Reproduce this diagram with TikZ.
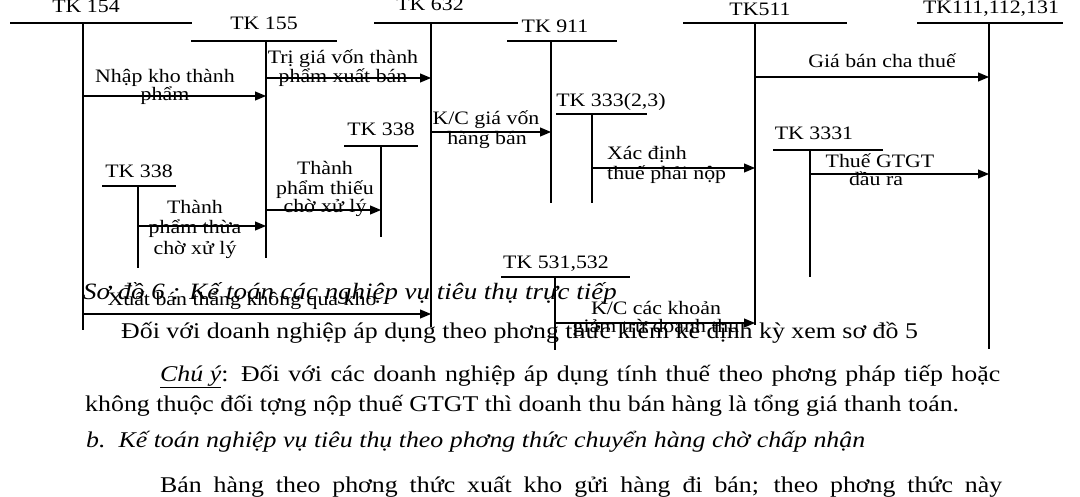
\documentclass[tikz,border=0pt]{standalone}
\usepackage{fontspec}
\setmainfont{Liberation Serif}[FakeStretch=1.15]
\usetikzlibrary{arrows.meta}
\tikzset{
  ln/.style={line width=1.1pt},
  arr/.style={line width=1.1pt,-{Triangle[length=11pt,width=9pt]}},
  lbl/.style={anchor=base,inner sep=0pt,font=\fontsize{19}{19}\selectfont},
  lbll/.style={anchor=base west,inner sep=0pt,font=\fontsize{19}{19}\selectfont},
  body/.style={anchor=base west,inner sep=0pt,font=\fontsize{22.5}{22.5}\selectfont},
  capt/.style={anchor=base west,inner sep=0pt,font=\fontsize{23.4}{23.4}\selectfont\itshape},
}
\begin{document}
\begin{tikzpicture}[x=1pt,y=-1pt]
\useasboundingbox (0,0) rectangle (1080,496);
% ---------- accounts ----------
\node[lbl] (k154) at (86,12) {TK 154};
\coordinate (h154a) at (10,23); \coordinate (h154b) at (192,23);
\coordinate (v154t) at (83,23); \coordinate (v154b) at (83,330);
\node[lbl] (k155) at (264,29) {TK 155};
\coordinate (h155a) at (191,41); \coordinate (h155b) at (337,41);
\coordinate (v155t) at (266,41); \coordinate (v155b) at (266,258);
\node[lbl] (k632) at (430,10) {TK 632};
\coordinate (h632a) at (374,23); \coordinate (h632b) at (518,23);
\coordinate (v632t) at (431,23); \coordinate (v632b) at (431,327);
\node[lbl] (k911) at (555,32) {TK 911};
\coordinate (h911a) at (507,41); \coordinate (h911b) at (617,41);
\coordinate (v911t) at (551,41); \coordinate (v911b) at (551,203);
\node[lbl] (k333) at (611,106) {TK 333(2,3)};
\coordinate (h333a) at (556,114); \coordinate (h333b) at (647,114);
\coordinate (v333t) at (592,114); \coordinate (v333b) at (592,203);
\node[lbl] (k511) at (760,15) {TK511};
\coordinate (h511a) at (683,23); \coordinate (h511b) at (847,23);
\coordinate (v511t) at (755,23); \coordinate (v511b) at (755,325);
\node[lbl] (k111) at (991,13) {TK111,112,131};
\coordinate (h111a) at (917,23); \coordinate (h111b) at (1063,23);
\coordinate (v111t) at (989,23); \coordinate (v111b) at (989,349);
\node[lbl] (k3331) at (814,139) {TK 3331};
\coordinate (h3331a) at (773,150); \coordinate (h3331b) at (883,150);
\coordinate (v3331t) at (810,150); \coordinate (v3331b) at (810,277);
\node[lbl] (k338r) at (381,135) {TK 338};
\coordinate (h338ra) at (344,146); \coordinate (h338rb) at (418,146);
\coordinate (v338rt) at (381,146); \coordinate (v338rb) at (381,237);
\node[lbl] (k338l) at (139,177) {TK 338};
\coordinate (h338la) at (102,186); \coordinate (h338lb) at (176,186);
\coordinate (v338lt) at (138,186); \coordinate (v338lb) at (138,268);
\node[lbl] (k531) at (556,268) {TK 531,532};
\coordinate (h531a) at (501,277); \coordinate (h531b) at (630,277);
\coordinate (v531t) at (555,277); \coordinate (v531b) at (555,350);
\foreach \a in {154,155,632,911,333,511,111,3331,338r,338l,531}{
  \draw[ln] (h\a a) -- (h\a b);
  \draw[ln] (v\a t) -- (v\a b);
}
% ---------- arrows ----------
\coordinate (a1s) at (83,96);   \coordinate (a1e) at (266,96);
\coordinate (a2s) at (266,78);  \coordinate (a2e) at (431,78);
\coordinate (a3s) at (138,226); \coordinate (a3e) at (266,226);
\coordinate (a4s) at (266,210); \coordinate (a4e) at (381,210);
\coordinate (a5s) at (431,132); \coordinate (a5e) at (551,132);
\coordinate (a6s) at (592,168); \coordinate (a6e) at (755,168);
\coordinate (a7s) at (755,77);  \coordinate (a7e) at (989,77);
\coordinate (a8s) at (810,174); \coordinate (a8e) at (989,174);
\coordinate (a9s) at (83,314);  \coordinate (a9e) at (431,314);
\coordinate (a10s) at (555,323); \coordinate (a10e) at (755,323);
\foreach \i in {1,...,10}{ \draw[arr] (a\i s) -- (a\i e); }
% ---------- arrow labels ----------
\node[lbl] (t1a) at (165,82) {Nhập kho thành};
\node[lbl] (t1b) at (165,100) {phẩm};
\node[lbl] (t2a) at (343,63) {Trị giá vốn thành};
\node[lbl] (t2b) at (343,82) {phẩm xuất bán};
\node[lbl] (t3a) at (195,213) {Thành};
\node[lbl] (t3b) at (195,233) {phẩm thừa};
\node[lbl] (t3c) at (195,254) {chờ xử lý};
\node[lbl] (t4a) at (325,174) {Thành};
\node[lbl] (t4b) at (325,194) {phẩm thiếu};
\node[lbl] (t4c) at (325,212) {chờ xử lý};
\node[lbl] (t5a) at (486,124) {K/C giá vốn};
\node[lbl] (t5b) at (487,144) {hàng bán};
\node[lbll] (t6a) at (607,159) {Xác định};
\node[lbll] (t6b) at (607,179) {thuế phải nộp};
\node[lbl] (t7) at (882,67) {Giá bán cha thuế};
\node[lbl] (t8a) at (880,167) {Thuế GTGT};
\node[lbl] (t8b) at (876,185) {đầu ra};
\node[lbl] (t9) at (242,305) {Xuất bán thẳng không qua kho};
\node[lbl] (t10a) at (656,314) {K/C các khoản};
\node[lbl] (t10b) at (656,332) {giảm trừ doanh thu};
% ---------- page text ----------
\node[capt] (cap) at (83,299) {Sơ đồ 6 : Kế toán các nghiệp vụ tiêu thụ trực tiếp};
\node[body] (p1) at (121,338) {Đối với doanh nghiệp áp dụng theo phơng thức kiểm kê định kỳ xem sơ đồ 5};
\node[body] (p2) at (160,381) {\makebox[840pt][s]{\underline{\itshape Chú ý}: Đối với các doanh nghiệp áp dụng tính thuế theo phơng pháp tiếp hoặc}};
\node[body] (p3) at (85,411) {không thuộc đối tợng nộp thuế GTGT thì doanh thu bán hàng là tổng giá thanh toán.};
\node[body] (p4) at (86,447) {\itshape b.\ \ Kế toán nghiệp vụ tiêu thụ theo phơng thức chuyển hàng chờ chấp nhận};
\node[body] (p5) at (160,492) {\makebox[842pt][s]{Bán hàng theo phơng thức xuất kho gửi hàng đi bán; theo phơng thức này}};
\end{tikzpicture}
\end{document}
